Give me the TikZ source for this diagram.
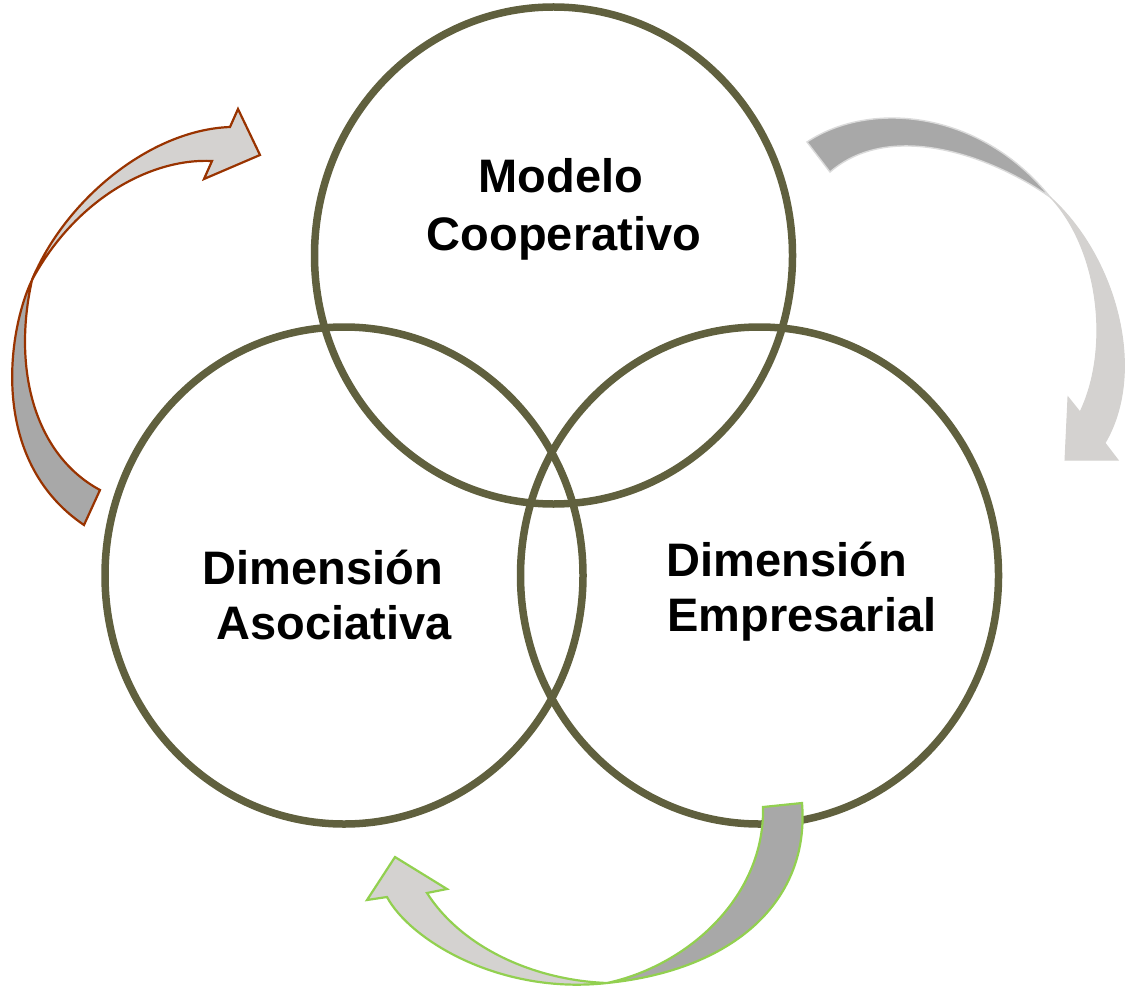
\documentclass[tikz,border=0pt]{standalone}
\usepackage{fontspec}
\setmainfont{Liberation Sans}
\usetikzlibrary{shapes.geometric}
\definecolor{ring}{RGB}{96,96,62}
\definecolor{lightband}{RGB}{212,210,208}
\definecolor{darkband}{RGB}{168,168,168}
\definecolor{brownline}{RGB}{153,51,0}
\definecolor{greenline}{RGB}{146,208,80}
\definecolor{greyline}{RGB}{218,218,218}
\begin{document}
\begin{tikzpicture}[x=1pt,y=-1pt,
  ringnode/.style={ellipse,draw=ring,line width=7.5pt,minimum width=478pt,minimum height=497pt,inner sep=0pt},
  label/.style={anchor=base,font=\fontsize{47}{53}\selectfont\bfseries,inner sep=0pt},
  lpart/.style={fill=lightband,line width=2.2pt,line join=miter},
  dpart/.style={fill=darkband,line width=2.2pt,line join=miter}]
\useasboundingbox (0,0) rectangle (1131,992);
% circles
\node[ringnode] (top) at (553.5,255.5) {};
\node[ringnode] (left) at (344,575.5) {};
\node[ringnode] (right) at (759.5,575.5) {};
% labels
\node[label] (topa) at (561,193) {Modelo};
\node[label] (topb) at (564,250) {Cooperativo};
\node[label] (lefta) at (323,584) {Dimensión};
\node[label] (leftb) at (334,639) {Asociativa};
\node[label] (righta) at (787,576) {Dimensión};
\node[label] (rightb) at (802,631) {Empresarial};
% left arrow (brown outline)
\path[dpart,draw=brownline] (32,280) .. controls (8,330) and (-12,460) .. (84,525)
  -- (100,490) .. controls (35,455) and (12,370) .. (32,280) -- cycle;
\path[lpart,draw=brownline] (32,280) .. controls (65,200) and (150,130) .. (230,127)
  -- (238,109) -- (260,155) -- (204,179) -- (212,161)
  .. controls (150,158) and (75,200) .. (32,280) -- cycle;
% right arrow (grey)
\path[dpart,draw=greyline,line width=1.4pt] (807,142) .. controls (870,100) and (980,110) .. (1050,197)
  .. controls (990,155) and (890,120) .. (830,172) -- cycle;
\path[lpart,draw=lightband,line width=1pt] (1050,197) .. controls (1115,255) and (1148,370) .. (1105,443)
  -- (1118,460) -- (1065,460) -- (1068,397) -- (1080,412)
  .. controls (1110,350) and (1100,250) .. (1050,197) -- cycle;
% bottom arrow (green outline)
\path[dpart,draw=greenline] (763,807) .. controls (765,895) and (690,965) .. (607,983)
  .. controls (735,970) and (810,900) .. (802,803) -- cycle;
\path[lpart,draw=greenline] (607,983) .. controls (500,995) and (410,940) .. (387,897)
  -- (367,900) -- (395,857) -- (447,889) -- (427,893)
  .. controls (460,945) and (530,980) .. (607,983) -- cycle;
\end{tikzpicture}
\end{document}
